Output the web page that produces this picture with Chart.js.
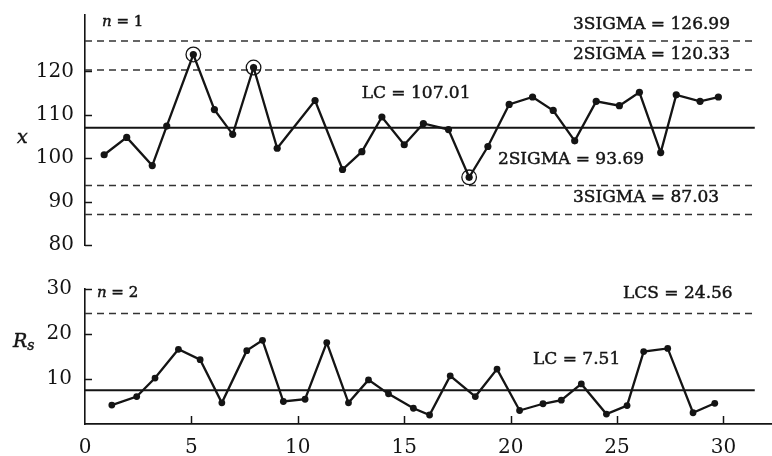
<!DOCTYPE html>
<html>
<head>
<meta charset="utf-8">
<script src="https://cdn.jsdelivr.net/npm/chart.js@4/dist/chart.umd.min.js"></script>
<style>
  html, body { margin: 0; padding: 0; background: #fff; }
  #wrap { position: relative; width: 772px; height: 456px; overflow: hidden; }
  canvas { position: absolute; left: 0; }
  #chartX { top: 0; }
  #chartRs { top: 260px; }
</style>
</head>
<body>
<div id="wrap">
  <canvas id="chartX" width="772" height="260"></canvas>
  <canvas id="chartRs" width="772" height="196"></canvas>
</div>
<script>
// ---- individual values (x chart, n = 1) ----
const sampleX = [0.9, 1.96, 3.16, 3.84, 5.09, 6.08, 6.94, 7.92, 9.03, 10.81, 12.1, 13.01, 13.95, 15.0, 15.9,
                 17.08, 18.05, 18.93, 19.93, 21.03, 22.0, 23.01, 24.02, 25.11, 26.05, 27.05, 27.78, 28.9, 29.76];
const xValues = [100.8, 104.8, 98.3, 107.4, 123.9, 111.2, 105.5, 120.9, 102.3, 113.3, 97.4, 101.5, 109.5, 103.1, 108.0,
                 106.6, 95.6, 102.7, 112.4, 114.1, 111.0, 104.0, 113.1, 112.1, 115.2, 101.3, 114.6, 113.1, 114.1];
const flaggedIdx = [4, 7, 16];          // points outside the 2-sigma band
const xCenter = 107.01;
const x2SigmaUp = 120.33;
const x3SigmaUp = 126.99;
const x2SigmaLow = 93.69;
const x3SigmaLow = 87.03;

// ---- moving ranges (Rs chart, n = 2) ----
const rangeX = [1.26, 2.43, 3.29, 4.39, 5.41, 6.43, 7.6, 8.34, 9.32, 10.34, 11.36, 12.38, 13.32, 14.26, 15.43,
                16.19, 17.16, 18.34, 19.36, 20.42, 21.52, 22.38, 23.32, 24.5, 25.47, 26.25, 27.38, 28.57, 29.59];
const rsValues = [4.2, 6.1, 10.2, 16.6, 14.3, 4.7, 16.3, 18.6, 5.0, 5.5, 18.1, 4.7, 9.8, 6.7, 3.5,
                  2.0, 10.7, 6.1, 12.2, 3.0, 4.5, 5.3, 8.9, 2.2, 4.1, 16.1, 16.8, 2.5, 4.6];
const rsCenter = 7.51;
const rsUpper = 24.56;

// ---- axis ticks ----
const sampleTicks = [0, 5, 10, 15, 20, 25, 30];
const xAxisTicks = [80, 90, 100, 110, 120];
const rsAxisTicks = [10, 20, 30];

const X_MIN = 0, X_MAX = 32.28, LINE_END = 31.47;
const INK = '#141414';
const SERIF = "'DejaVu Serif', 'Liberation Serif', serif";

Chart.defaults.font.family = SERIF;
Chart.defaults.color = INK;

const pts = (xs, ys) => xs.map((x, i) => ({ x, y: ys[i] }));
const hLine = v => [{ x: X_MIN, y: v }, { x: LINE_END, y: v }];

function refLine(v, dashed) {
  return {
    data: hLine(v), borderColor: dashed ? '#333' : INK, borderWidth: dashed ? 1.5 : 2,
    borderDash: dashed ? [7, 5] : [], pointRadius: 0, fill: false, order: 5
  };
}

// draw text a little heavier, like printed type
function inkText(ctx, text, x, y) {
  ctx.fillText(text, x, y);
  ctx.strokeText(text, x, y);
}

// inward tick marks, control-limit captions and axis titles
const marks = {
  id: 'marks',
  afterDraw(chart, args, opts) {
    const ctx = chart.ctx;
    const xs = chart.scales.x, ys = chart.scales.y;
    const area = chart.chartArea;
    ctx.save();
    ctx.strokeStyle = INK;
    ctx.lineWidth = 1.5;
    ys.ticks.forEach(t => {
      const py = Math.round(ys.getPixelForValue(t.value)) + 0.5;
      ctx.beginPath(); ctx.moveTo(area.left, py); ctx.lineTo(area.left + 7, py); ctx.stroke();
    });
    if (opts.xTickMarks) {
      xs.ticks.forEach(t => {
        if (t.value === 0) return;
        const px = Math.round(xs.getPixelForValue(t.value)) + 0.5;
        ctx.beginPath(); ctx.moveTo(px, area.bottom); ctx.lineTo(px, area.bottom - 8); ctx.stroke();
      });
    }
    ctx.fillStyle = INK;
    ctx.lineWidth = 0.45;
    ctx.textBaseline = 'middle';
    ctx.textAlign = 'left';
    ctx.font = `17px ${SERIF}`;
    opts.captions.forEach(c => {
      inkText(ctx, c.text, xs.getPixelForValue(c.x), ys.getPixelForValue(c.y) + c.dy);
    });
    // subgroup size "n = k"
    const nx = xs.getPixelForValue(opts.nAt), ny = area.top + opts.nDy;
    ctx.font = `italic 15px ${SERIF}`;
    inkText(ctx, 'n', nx, ny);
    const w = ctx.measureText('n').width;
    ctx.font = `15px ${SERIF}`;
    inkText(ctx, ' = ' + opts.n, nx + w, ny);
    // axis title
    const ty = ys.getPixelForValue(opts.titleAt);
    ctx.font = `italic 19px ${SERIF}`;
    inkText(ctx, opts.title, opts.titleX, ty);
    if (opts.sub) {
      const tw = ctx.measureText(opts.title).width;
      ctx.font = `italic 14px ${SERIF}`;
      inkText(ctx, opts.sub, opts.titleX + tw, ty + 5);
    }
    ctx.restore();
  }
};

const fixedTicks = list => scale => { scale.ticks = list.map(v => ({ value: v })); };
const tickFont = { family: SERIF, size: 20, lineHeight: 1.2 };

// ---------- x chart ----------
new Chart(document.getElementById('chartX'), {
  type: 'line',
  data: {
    datasets: [
      {
        data: pts(sampleX, xValues), borderColor: INK, borderWidth: 2.3, tension: 0,
        pointRadius: 3.6, pointBackgroundColor: INK, pointBorderColor: INK, pointBorderWidth: 0, order: 1, clip: false
      },
      {
        data: flaggedIdx.map(i => ({ x: sampleX[i], y: xValues[i] })), showLine: false,
        pointRadius: 7.3, pointBorderWidth: 1.3, pointBorderColor: INK, pointBackgroundColor: 'rgba(0,0,0,0)', order: 0, clip: false
      },
      refLine(x3SigmaUp, true),
      refLine(x2SigmaUp, true),
      refLine(xCenter, false),
      refLine(x2SigmaLow, true),
      refLine(x3SigmaLow, true)
    ]
  },
  options: {
    responsive: false, animation: false, devicePixelRatio: 1,
    layout: { autoPadding: false, padding: { top: 12, bottom: 15, left: 0, right: 0 } },
    plugins: {
      legend: { display: false }, tooltip: { enabled: false },
      marks: {
        captions: [
          { text: `3SIGMA = ${x3SigmaUp.toFixed(2)}`, x: 22.93, y: x3SigmaUp, dy: -17 },
          { text: `2SIGMA = ${x2SigmaUp.toFixed(2)}`, x: 22.93, y: x2SigmaUp, dy: -15 },
          { text: `LC = ${xCenter.toFixed(2)}`, x: 13.0, y: xCenter, dy: -34 },
          { text: `2SIGMA = ${x2SigmaLow.toFixed(2)}`, x: 19.4, y: x2SigmaLow, dy: -26 },
          { text: `3SIGMA = ${x3SigmaLow.toFixed(2)}`, x: 22.93, y: x3SigmaLow, dy: -17 }
        ],
        n: 1, nAt: 0.8, nDy: 7,
        title: 'x', titleX: 17, titleAt: 104.6, xTickMarks: false
      }
    },
    scales: {
      x: { type: 'linear', min: X_MIN, max: X_MAX, display: false },
      y: {
        type: 'linear', min: 80, max: 133,
        afterBuildTicks: fixedTicks(xAxisTicks),
        afterFit: s => { s.width = 85; },
        grid: { display: false },
        border: { display: true, color: INK, width: 1.6 },
        ticks: { font: tickFont, color: INK, padding: 3 }
      }
    }
  },
  plugins: [marks]
});

// ---------- Rs chart ----------
new Chart(document.getElementById('chartRs'), {
  type: 'line',
  data: {
    datasets: [
      {
        data: pts(rangeX, rsValues), borderColor: INK, borderWidth: 2.3, tension: 0,
        pointRadius: 3.4, pointBackgroundColor: INK, pointBorderColor: INK, pointBorderWidth: 0, order: 1, clip: false
      },
      refLine(rsUpper, true),
      refLine(rsCenter, false)
    ]
  },
  options: {
    responsive: false, animation: false, devicePixelRatio: 1,
    layout: { autoPadding: false, padding: { top: 29, bottom: 0, left: 0, right: 0 } },
    plugins: {
      legend: { display: false }, tooltip: { enabled: false },
      marks: {
        captions: [
          { text: `LCS = ${rsUpper.toFixed(2)}`, x: 25.28, y: rsUpper, dy: -20 },
          { text: `LC = ${rsCenter.toFixed(2)}`, x: 21.05, y: rsCenter, dy: -31 }
        ],
        n: 2, nAt: 0.56, nDy: 4,
        title: 'R', sub: 's', titleX: 13, titleAt: 18.3, xTickMarks: true
      }
    },
    scales: {
      x: {
        type: 'linear', min: X_MIN, max: X_MAX,
        afterBuildTicks: fixedTicks(sampleTicks),
        afterFit: s => { s.height = 32; },
        grid: { display: false },
        border: { display: true, color: INK, width: 1.8 },
        ticks: { font: tickFont, color: INK, padding: 4, maxRotation: 0, autoSkip: false }
      },
      y: {
        type: 'linear', min: 0, max: 30,
        afterBuildTicks: fixedTicks(rsAxisTicks),
        afterFit: s => { s.width = 85; },
        grid: { display: false },
        border: { display: true, color: INK, width: 1.6 },
        ticks: { font: tickFont, color: INK, padding: 5 }
      }
    }
  },
  plugins: [marks]
});
</script>
</body>
</html>
